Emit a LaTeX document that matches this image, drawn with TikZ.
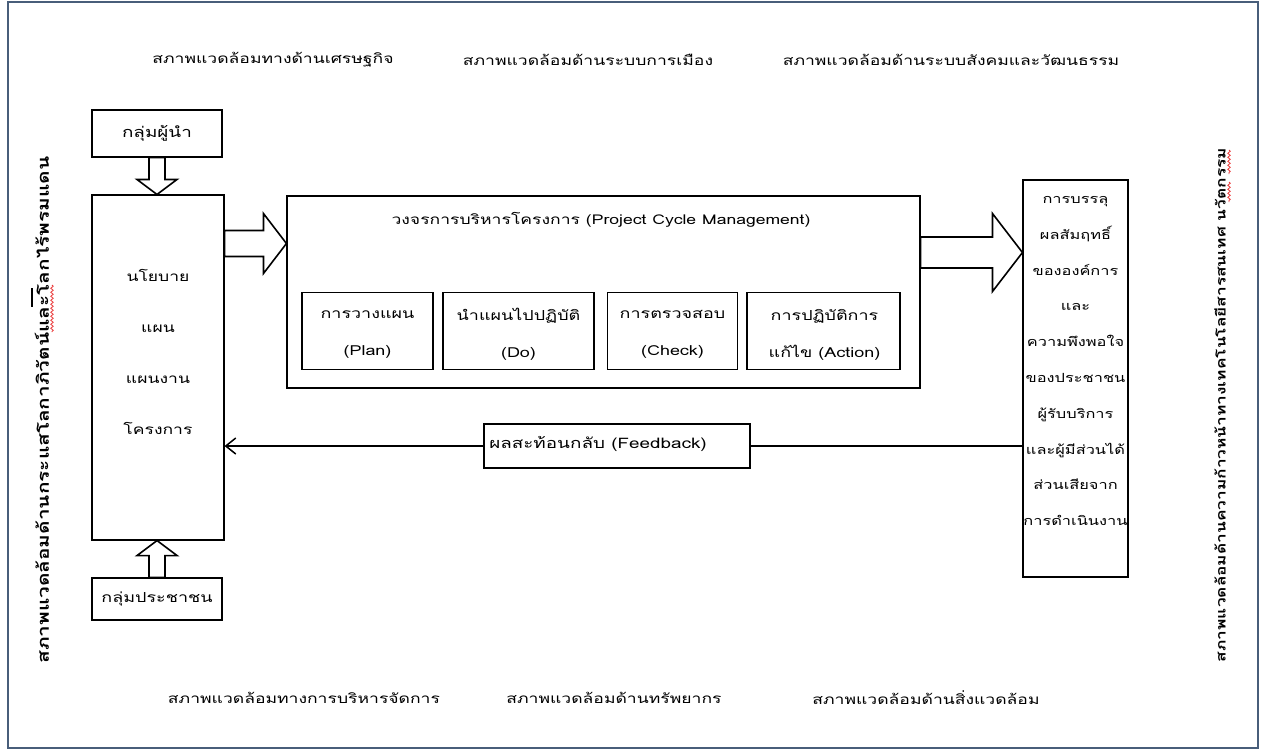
\documentclass[tikz,border=0pt]{standalone}
\usepackage{fontspec}
\setmainfont[Script=Thai, FakeStretch=1.3]{Loma}
\usetikzlibrary{calc,arrows.meta,decorations.pathmorphing}
\definecolor{framecol}{RGB}{72,94,122}
\definecolor{squig}{RGB}{235,60,60}
\begin{document}
\begin{tikzpicture}[x=1pt,y=-1pt,
  every node/.style={font=\fontsize{14.5}{16}\selectfont},
  box/.style={draw, line width=1.1pt, fill=white, inner sep=0pt},
  txt/.style={inner sep=0pt, align=center},
  envtxt/.style={txt, font=\fontsize{13.5}{16}\selectfont},
  vtxt/.style={inner sep=0pt, rotate=90},
  hollow/.style={draw, line width=1.6pt, fill=white, line join=miter},
  fbline/.style={line width=1.5pt},
  squiggle/.style={squig, line width=0.8pt, decorate, decoration={snake, amplitude=1.2pt, segment length=4pt}}
]
\useasboundingbox (0,0) rectangle (1265,753);
\fill[white] (0,0) rectangle (1265,753);
\draw[framecol, line width=1.5pt] (8,2) rectangle (1258,748);

% environment labels
\node[envtxt] (e1) at (273,60) {สภาพแวดล้อมทางด้านเศรษฐกิจ};
\node[envtxt] (e2) at (588,60) {สภาพแวดล้อมด้านระบบการเมือง};
\node[envtxt] (e3) at (951,60) {สภาพแวดล้อมด้านระบบสังคมและวัฒนธรรม};
\node[envtxt] (e4) at (304,698) {สภาพแวดล้อมทางการบริหารจัดการ};
\node[envtxt] (e5) at (614,698) {สภาพแวดล้อมด้านทรัพยากร};
\node[envtxt] (e6) at (926,698) {สภาพแวดล้อมด้านสิ่งแวดล้อม};
\node[vtxt, font=\fontsize{16}{18}\selectfont\bfseries] (e7) at (42,410) {สภาพแวดล้อมด้านกระแสโลกาภิวัตน์และโลกไร้พรมแดน};
\node[vtxt, font=\fontsize{13.3}{15}\selectfont\bfseries] (e8) at (1220,405) {สภาพแวดล้อมด้านความก้าวหน้าทางเทคโนโลยีสารสนเทศ นวัตกรรม};
\draw[line width=2pt] (32,288) -- (32,307);
\draw[squiggle] (52,285) -- (52,332);
\draw[squiggle] (1229,150) -- (1229,174);
\draw[squiggle] (1229,182) -- (1229,202);

% left column
\node[box, minimum width=130pt, minimum height=47pt] (lead) at (157,133.5) {กลุ่มผู้นำ};
\node[box, minimum width=132pt, minimum height=345pt] (main) at (158,367.5) {};
\node[txt, font=\fontsize{13.5}{51}\selectfont] (maintext) at (158,352) {นโยบาย\\แผน\\แผนงาน\\โครงการ};
\node[box, minimum width=130pt, minimum height=42pt, font=\fontsize{13.8}{16}\selectfont] (people) at (157,599) {กลุ่มประชาชน};

% project cycle box
\node[box, minimum width=633pt, minimum height=192pt] (pcm) at (603.5,292) {};
\node[txt, font=\fontsize{13.5}{16}\selectfont] (pcmtitle) at (601,220) {วงจรการบริหารโครงการ (Project Cycle Management)};
\tikzset{sub/.style={box, minimum height=77pt}}
\tikzset{subtxt/.style={txt, font=\fontsize{13.8}{37}\selectfont}}
\node[sub, minimum width=131pt] (plan) at (367.5,331) {};
\node[sub, minimum width=151pt] (do) at (518.5,331) {};
\node[sub, minimum width=130pt] (check) at (672.5,331) {};
\node[sub, minimum width=153pt] (act) at (823.5,331) {};
\node[subtxt] (plant) at (367.5,334.5) {การวางแผน\\(Plan)};
\node[subtxt] (dot) at (518.5,334.5) {นำแผนไปปฏิบัติ\\(Do)};
\node[subtxt] (checkt) at (672.5,334.5) {การตรวจสอบ\\(Check)};
\node[subtxt] (actt) at (824.5,334.5) {การปฏิบัติการ\\แก้ไข (Action)};

% result box
\node[box, minimum width=105pt, minimum height=397pt] (result) at (1075.5,378.5) {};
\node[txt, font=\fontsize{12.6}{35.8}\selectfont] (restext) at (1075.5,361) {การบรรลุ\\ผลสัมฤทธิ์\\ขององค์การ\\และ\\ความพึงพอใจ\\ของประชาชน\\ผู้รับบริการ\\และผู้มีส่วนได้\\ส่วนเสียจาก\\การดำเนินงาน};

% hollow arrows
\draw[hollow] let \p1=(lead.south), \p2=(main.north) in
  (\x1-8pt,\y1) -- (\x1-8pt,\y2+15pt) -- (\x1-20pt,\y2+15pt) -- (\x1,\y2)
  -- (\x1+20pt,\y2+15pt) -- (\x1+8pt,\y2+15pt) -- (\x1+8pt,\y1) -- cycle;
\draw[hollow] let \p1=(people.north), \p2=(main.south) in
  (\x1-8pt,\y1) -- (\x1-8pt,\y2-15pt) -- (\x1-20pt,\y2-15pt) -- (\x1,\y2)
  -- (\x1+20pt,\y2-15pt) -- (\x1+8pt,\y2-15pt) -- (\x1+8pt,\y1) -- cycle;
\draw[hollow] let \p1=(main.east), \p2=(pcm.west), \p3=(0,243.5) in
  (\x1,\y3+13pt) -- (\x2-23pt,\y3+13pt) -- (\x2-23pt,\y3+30pt) -- (\x2,\y3)
  -- (\x2-23pt,\y3-30pt) -- (\x2-23pt,\y3-13pt) -- (\x1,\y3-13pt) -- cycle;
\draw[hollow] let \p1=(pcm.east), \p2=(result.west), \p3=(0,252.5) in
  (\x1,\y3+15.5pt) -- (\x2-30pt,\y3+15.5pt) -- (\x2-30pt,\y3+39pt) -- (\x2,\y3)
  -- (\x2-30pt,\y3-39pt) -- (\x2-30pt,\y3-15.5pt) -- (\x1,\y3-15.5pt) -- cycle;

% feedback
\node[box, minimum width=266pt, minimum height=44pt] (fb) at (617,446) {};
\node[txt] (fbtext) at (598,444) {ผลสะท้อนกลับ (Feedback)};
\draw[fbline] (result.west |- fb.center) -- (fb.east);
\draw[fbline, -{Straight Barb[length=10pt, width=16pt, line width=1.5pt]}] (fb.west) -- (main.east |- fb.center);
\end{tikzpicture}
\end{document}
